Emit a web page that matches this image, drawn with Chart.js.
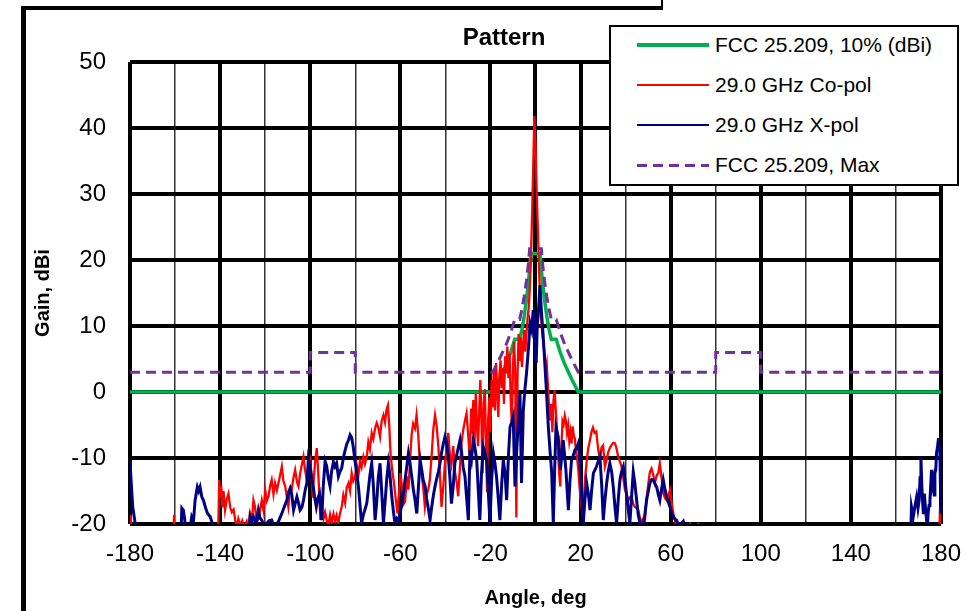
<!DOCTYPE html>
<html>
<head>
<meta charset="utf-8">
<script src="https://cdn.jsdelivr.net/npm/chart.js@4.4.1/dist/chart.umd.min.js"></script>
<style>
  html, body { margin: 0; padding: 0; background: #fff; }
  #wrap { position: relative; width: 973px; height: 611px; overflow: hidden; font-family: "Liberation Sans", Arial, sans-serif; }
  #chart { position: absolute; left: 0; top: 0; }
  .frame { position: absolute; background: #000; }
  #title { position: absolute; left: 404px; width: 200px; top: 23px; text-align: center; font-weight: bold; font-size: 24px; color: #000; }
  #legend { position: absolute; left: 609px; top: 25px; width: 350px; height: 161px; box-sizing: border-box; border: 2px solid #000; background: #fff; }
  .row { position: absolute; left: 0; height: 30px; width: 100%; }
  .swatch { position: absolute; left: 26px; width: 72px; top: 50%; }
  .label { position: absolute; left: 104px; top: 50%; transform: translateY(-50%); font-size: 21px; color: #000; white-space: nowrap; }
</style>
</head>
<body>
<div id="wrap">
  <canvas id="chart" width="977" height="611"></canvas>
  <div class="frame" style="left:21px; top:6px; width:5px; height:605px;"></div>
  <div class="frame" style="left:21px; top:6px; width:642px; height:4px;"></div>
  <div class="frame" style="left:661px; top:0px; width:2px; height:8px;"></div>
  <div id="title">Pattern</div>
  <div id="legend"></div>
</div>
<script>
const FONT = '"Liberation Sans", Arial, sans-serif';

const C_FCC   = '#00b050';
const C_CO    = '#ff0000';
const C_XP    = '#000080';
const C_MAX   = '#7030a0';

// X axis ticks (labelled every 40 deg, grid every 20 deg)
const X_LABELS = [-180, -140, -100, -60, -20, 20, 60, 100, 140, 180];
const X_THICK  = [-180, -140, -100, -60, -20, 0, 20, 60, 100, 140, 180];

// FCC 25.209, 10% (dBi)
const fccAngle = [-180, -19, -16, -13, -11, -9.2, -7, -6, -5, -4, -3, -2.3, -2, 2, 2.3, 3, 4, 5, 6, 7, 9.2, 11, 13, 16, 19, 180];
const fccGain  = [0, 0, 2, 4.2, 6, 8, 8, 9.5, 11.5, 14, 17, 20, 21, 21, 20, 17, 14, 11.5, 9.5, 8, 8, 6, 4.2, 2, 0, 0];

// FCC 25.209, Max
const maxAngle = [-180, -100, -100, -80, -80, -19, -16, -13, -11, -9.2, -7, -6, -5, -4, -3.2, -2.6, 2.6, 3.2, 4, 5, 6, 7, 9.2, 11, 13, 16, 19, 80, 80, 100, 100, 180];
const maxGain  = [3, 3, 6, 6, 3, 3, 5, 7.2, 9, 11, 11, 12.6, 14.5, 16.9, 19.3, 21.7, 21.7, 19.3, 16.9, 14.5, 12.6, 11, 11, 9, 7.2, 5, 3, 3, 6, 6, 3, 3];

// 29.0 GHz Co-pol
const coAngle = [
  -180, -179.7, -179.3, -161, -160.4, -160, -141, -140.4, -140, -139.5, -139, -138.5, -137.8, -137, -136.3, -135.5,
  -134.8, -134, -133.3, -132.5, -131.9, -131, -130.2, -129.4, -128.2, -127.5, -126.7, -125.9, -125.2, -124.5, -123.7, -123,
  -122.2, -121.5, -120.7, -120, -119.3, -118.5, -117.8, -117.1, -116.3, -115.6, -114.8, -114.1, -113.3, -112.6, -111.9, -111.1,
  -110.4, -109.7, -108.9, -108.2, -107.4, -106.7, -105.9, -105.2, -104.5, -103.7, -103, -102.3, -101.5, -100.8, -100, -99.4,
  -98.9, -98.5, -97.8, -97.1, -96.5, -96, -95.5, -94.8, -94.1, -93.4, -92.7, -92, -91.2, -90.5, -89.7, -89,
  -88.3, -87.5, -86.8, -86, -85.3, -84.5, -83.8, -83, -82.3, -81.6, -80.9, -80.1, -79.4, -78.6, -77.9, -77.2,
  -76.4, -75.7, -74.9, -74.2, -73.5, -72.7, -72, -71.2, -70.5, -69.8, -69, -68.3, -67.5, -66.8, -66.1, -65.5,
  -64.9, -64.3, -63.5, -62.8, -62, -61.3, -60.6, -60, -59.3, -58.6, -57.9, -57.1, -56.4, -55.7, -55, -54.3,
  -53.5, -52.8, -52.1, -51.3, -50.6, -49.8, -49.1, -48.4, -47.6, -46.9, -46.1, -45.4, -44.6, -43.9, -43.1, -42.4,
  -41.7, -40.9, -40.2, -39.5, -38.7, -38, -37.3, -36.5, -35.8, -35, -34.3, -33.5, -32.8, -32.1, -31.3, -30.6,
  -29.9, -29.1, -28.6, -28.1, -27.6, -27.1, -26.5, -26, -25.5, -25, -24.5, -24, -23.5, -23, -22.5, -22,
  -21.5, -21, -20.5, -20, -19.5, -19, -18.5, -18, -17.5, -17, -16.5, -16, -15.5, -15, -14.5, -14,
  -13.5, -13, -12.5, -12, -11.5, -11, -10.5, -10, -9.5, -9, -8.5, -8, -7.5, -7, -6.5, -6,
  -5.5, -5, -4.5, -4, -3.5, -3, -2.5, -2, -1.5, -1, -0.5, 0, 0.5, 1, 1.5, 2,
  2.5, 3, 3.5, 4, 4.5, 5, 5.5, 6, 6.5, 7, 7.5, 8, 8.5, 9, 9.5, 10,
  10.5, 11, 11.5, 12, 12.5, 13, 13.5, 14, 14.5, 15, 15.5, 16, 16.5, 17, 17.5, 18,
  18.5, 19, 19.5, 20, 20.5, 21, 21.5, 22, 22.5, 23, 23.5, 24, 24.8, 25.5, 26.2, 27,
  27.8, 28.6, 29.3, 30, 30.8, 31.5, 32.3, 33, 33.8, 34.5, 35.3, 36, 36.7, 37.5, 38.2, 39,
  39.7, 40.5, 41.2, 42, 42.7, 43.4, 44.1, 44.9, 45.6, 46.4, 47.1, 47.8, 48.6, 49.3, 50.1, 50.8,
  51.5, 52.3, 53, 53.8, 54.5, 55.2, 56, 56.7, 57.5, 58.2, 59, 59.7, 60.4, 61.2, 62, 62.6,
  63.5, 68, 68.6, 69.1, 72, 72.3, 72.7, 179, 179.6, 180
];
const coGain = [
  -22, -18.6, -23, -24, -18.6, -24, -24, -13.3, -16, -14.2, -17.5, -15, -17.9, -16.2, -15.4, -17.5,
  -18.2, -17.8, -19.4, -20.5, -19.2, -20.2, -19.5, -20.6, -19.6, -20.8, -18.4, -19.5, -16.4, -17.4, -19.8, -19.1,
  -17.8, -16.4, -18, -14.8, -16.5, -15.8, -14.2, -13.3, -15.5, -13.8, -14.9, -13.8, -12.5, -11.3, -13.5, -14.3,
  -15.8, -17.4, -14.6, -14.8, -12.9, -11.8, -13.6, -14.3, -12.4, -11, -9.8, -11.8, -13.3, -11.2, -10.3, -12.5,
  -16, -13.6, -10.5, -8.5, -11.8, -15.2, -19.4, -17.5, -19.2, -18.2, -19.4, -20.3, -18.6, -19.8, -18.5, -19.6,
  -18.7, -19.9, -18.4, -17.4, -15.6, -16.8, -14.5, -13.8, -15, -12.3, -13.5, -12.8, -11, -12.6, -10.5, -11.4,
  -9.8, -10.9, -9.8, -7.6, -8.7, -6.2, -7.1, -5.5, -4.7, -5.4, -6.8, -4.4, -3.5, -4.6, -2.6, -2,
  -5.2, -9.6, -12.1, -13.8, -16.3, -18.4, -15.5, -12.3, -14.2, -17, -16.6, -12.8, -14.8, -10.5, -6.5, -4.8,
  -5.5, -3.5, -6.3, -10.8, -12.4, -14.6, -17.4, -15.6, -14.8, -13.3, -9.6, -5.8, -3.5, -5.1, -8.3, -12.6,
  -17.4, -14.2, -10.8, -8.7, -6.2, -9.6, -11, -8.2, -12, -13.7, -15.8, -11.2, -7.6, -5.8, -4.3, -3.2,
  -6.4, -10.2, -2.5, -6.3, -1.2, -8.6, -0.2, -4.9, -8.2, -3.1, 1.8, -4, -12.3, -1.6, 0.4, -7.1,
  -15.2, -4.1, -0.8, -6.1, 1.8, -2.3, 3.3, -2.8, 4.4, 0.2, -3.8, 2.6, 4.8, 0.6, 3.6, -1.8,
  5.4, 2.8, 6.9, 2.1, 5.8, -1.2, -5, 3.8, 7.6, 2.9, -19, 2.2, 8.8, 4.7, 8.3, 3.8,
  7.1, 9.4, 6.1, 8.9, 11.2, 12.8, 15.8, 20.6, 27, 34.2, 41.8, 37.5, 30.8, 25.2, 19.4, 14.3,
  11.2, 8.8, 7.4, 5.8, 3.1, 4.2, 1.1, -2.2, -4.3, -1.8, -6.1, -1.2, 0.3, -2.9, -5.4, -9.1,
  -12.2, -14.3, -8.3, -4.4, -4.9, -3.6, -4.4, -6.2, -5.1, -7.4, -6.1, -7.8, -5.2, -6.6, -7.1, -9.2,
  -10.1, -11.8, -14.2, -16.1, -17.6, -18.9, -16.2, -13.1, -11.3, -9.6, -8.4, -7.6, -6.1, -5.4, -6.2, -6,
  -8.6, -10.2, -8.4, -8.1, -11.3, -10.4, -9.1, -8.5, -8, -7.7, -7.8, -8.6, -9.8, -10.6, -11.3, -13.1,
  -14.8, -15.6, -16.4, -15.9, -15.8, -17, -17.4, -17.6, -17.9, -19.1, -19.9, -19.2, -19.4, -16.2, -13.8, -12.1,
  -11.6, -12.6, -13.8, -12.6, -12.3, -10.8, -13.1, -15.3, -16.1, -16.4, -15.6, -14.8, -16.6, -18.4, -19.6, -20.4,
  -23, -24, -19.8, -24, -24, -19.8, -24, -24, -17.4, -22
];

// 29.0 GHz X-pol
const xpAngle = [
  -180, -179.5, -178.8, -177.7, -177, -157.5, -157, -156.3, -155.5, -154.5, -153.5, -152.6, -151.8, -151.1, -150.1, -149.5,
  -148.9, -148.1, -147.4, -146.5, -145.6, -144.4, -143.3, -142.5, -127.5, -126.7, -126, -125.2, -124, -123, -122.2, -121.5,
  -120.5, -119.3, -118.2, -117.1, -116, -114.8, -113.7, -112.6, -111.5, -110.4, -109.6, -108.9, -108.2, -107.4, -106.6, -105.9,
  -105.2, -104.5, -103.7, -103, -102.2, -101.5, -100.8, -100.2, -99.5, -98.8, -98.1, -97.3, -96.6, -95.9, -94.9, -94.2,
  -93.4, -92.7, -92, -91.2, -90.5, -89.7, -89, -88.3, -87.5, -86.8, -86, -85.3, -84.5, -83.8, -83, -82.3,
  -81.6, -80.9, -80.1, -79.4, -78.6, -77.9, -77.2, -76.4, -75.7, -74.9, -74.2, -73.5, -72.7, -72, -71.2, -70.5,
  -69.8, -69, -68.3, -67.5, -66.8, -66, -65.3, -64.6, -63.8, -63.1, -62.4, -61.6, -60.9, -60.1, -59.4, -58.6,
  -57.9, -57.1, -56.4, -55.7, -54.9, -54.2, -53.5, -52.7, -52, -51.2, -50.5, -49.8, -49, -48.3, -47.5, -46.8,
  -46.1, -45.3, -44.6, -43.9, -43.1, -42.4, -41.7, -40.9, -40.2, -39.5, -38.7, -38, -37.3, -36.5, -35.8, -35,
  -34.3, -33.5, -32.8, -32.1, -31.3, -30.6, -29.8, -29.1, -28.4, -27.6, -26.9, -26.1, -25.4, -24.7, -24, -23.2,
  -22.5, -21.7, -21, -20.2, -19.5, -18.7, -18, -17.3, -16.5, -15.8, -15, -14.3, -13.5, -12.8, -12, -11.3,
  -10.6, -9.9, -9.1, -8.4, -7.6, -6.9, -6.2, -5.4, -4.7, -4, -3.2, -2.4, -1.7, -1, -0.3, 0.3,
  0.8, 1.3, 2, 2.6, 3.2, 4, 4.8, 5.7, 6.5, 7.2, 7.9, 8.5, 9.1, 10.1, 11.1, 11.7,
  12.3, 13.5, 14.6, 15.3, 16, 16.8, 17.5, 18.3, 19, 19.8, 20.5, 21.2, 22, 22.7, 23.5, 24.2,
  25, 25.7, 26.4, 27.1, 27.9, 28.6, 29.4, 30.1, 30.8, 31.6, 32.3, 33, 33.8, 34.5, 35.3, 36,
  36.8, 37.5, 38.2, 39, 39.7, 40.4, 41.2, 41.9, 42.7, 43.4, 44.1, 44.9, 45.6, 46.4, 47.1, 47.8,
  48.6, 49.3, 50.1, 50.8, 51.5, 52.3, 53, 53.8, 54.5, 55.2, 56, 56.7, 57.5, 58.2, 59, 59.7,
  60.4, 61.2, 62, 62.6, 63.4, 64.1, 64.9, 65.6, 66.3, 67, 166.5, 166.9, 167.7, 168.5, 169.2, 169.8,
  170.3, 170.7, 171.1, 171.5, 171.8, 172.2, 172.6, 173.2, 173.6, 174, 174.3, 174.7, 175.1, 175.5, 175.8, 176.2,
  176.6, 177, 177.3, 177.7, 178, 178.5, 178.9, 179.2, 179.5, 179.8, 180
];
const xpGain = [
  -10.5, -13.5, -17.4, -19.9, -23, -23, -17.6, -17.9, -19.9, -22, -21, -18.9, -19.5, -16.4, -14.4, -15,
  -14.4, -15.9, -16.4, -17.5, -18.4, -18.9, -20.1, -23, -23, -18.9, -19.6, -18.9, -20, -17.9, -19.2, -19.4,
  -20.3, -19.9, -19.5, -19.4, -20.4, -20.1, -19.3, -18.4, -17.4, -16.4, -15.2, -14.6, -15.5, -17.9, -16.8, -15.9,
  -16.8, -17.9, -17.5, -16.4, -14.8, -13.8, -10.1, -11, -12.8, -14, -15.8, -17.4, -16.1, -15.4, -19.4, -14.2,
  -10.5, -11.2, -13, -14.3, -12, -10.6, -11.3, -10.8, -12.8, -12.1, -11.5, -10, -8.8, -7.9, -7.3, -6.5,
  -6.9, -8.3, -10.5, -12.2, -14.3, -17.1, -19.9, -18.6, -17.8, -16.9, -14.8, -12.6, -10.8, -14, -19.4, -16.8,
  -13, -10.8, -14.9, -19.9, -16.8, -13.1, -10.8, -12.6, -15.8, -18, -19.9, -19.2, -19.6, -18.4, -17.2, -15.4,
  -13.3, -11.2, -9.3, -10.8, -12.9, -14.8, -16.3, -18.4, -14.6, -10.3, -11.8, -13.4, -14.3, -16.2, -17.8, -19.4,
  -17.5, -15.6, -14.3, -13.2, -12.1, -10.8, -9.2, -7.8, -6.8, -7.6, -9.8, -12.9, -16.9, -14.2, -10.8, -9.6,
  -8.5, -7.3, -9.2, -11.4, -12.8, -15.9, -19.4, -8.8, -10.2, -7.3, -8.4, -10.3, -14.8, -19.4, -12.6, -8.3,
  -9.1, -10.3, -14.8, -19.9, -13.5, -9.3, -10.8, -12.8, -16.2, -19.4, -13.9, -10.3, -12.4, -16.4, -9.6, -5.3,
  -4.6, -3.7, -14.3, -9.3, -4.2, -0.2, -13.8, -2.7, 0.4, 2.8, 6.3, 10.4, 9.4, 12.4, 8.1, 4.4,
  10.2, 12.1, 16.2, 12.3, 9.6, 5.2, 0.6, -5.3, -9.1, -12.3, -19.9, -11.8, -5.3, -6.8, -11.8, -9.4,
  -7.3, -11.8, -17.9, -13.5, -10.3, -9.6, -8.8, -8.5, -7.8, -11.2, -15.4, -19.9, -16.1, -13.8, -15.5, -17.9,
  -14.6, -12.3, -11.8, -11.3, -10.4, -9.8, -14.2, -19.4, -16.5, -13.8, -12, -10.8, -12.1, -14.3, -17.5, -19.9,
  -16, -13.3, -12.1, -11.3, -13.2, -15.4, -17.8, -19.9, -15.6, -12.1, -13.8, -16.4, -18.6, -19.9, -20.1, -20.4,
  -18.4, -16.4, -15, -13.8, -13.3, -13.3, -13.9, -14.4, -15.5, -16.4, -14.6, -13.3, -14.8, -15.9, -16.7, -17.4,
  -18.2, -18.9, -19.3, -19.4, -20.1, -20.4, -19.9, -19.6, -20.6, -23, -23, -17.4, -18.9, -17.2, -15.9, -17.6,
  -16.4, -13, -9.8, -14.2, -16.4, -18.5, -15.4, -17.9, -19.4, -20.2, -18.4, -17.2, -16.4, -13.8, -11.8, -14,
  -13.3, -15.6, -12.3, -11.8, -9.3, -8.2, -7, -8.5, -8.8, -15, -18.4
];

const pts = (xs, ys) => xs.map((x, i) => ({ x, y: ys[i] }));

const datasets = [
  { label: 'FCC 25.209, 10% (dBi)', data: pts(fccAngle, fccGain), borderColor: C_FCC, borderWidth: 3.5, order: 4 },
  { label: '29.0 GHz Co-pol',       data: pts(coAngle, coGain),   borderColor: C_CO,  borderWidth: 2.3, order: 3 },
  { label: '29.0 GHz X-pol',        data: pts(xpAngle, xpGain),   borderColor: C_XP,  borderWidth: 3,   order: 2 },
  { label: 'FCC 25.209, Max',       data: pts(maxAngle, maxGain), borderColor: C_MAX, borderWidth: 3,   borderDash: [10, 6], order: 1 },
];

// legend box (sits over the plot, like the original)
const legendRows = [
  { top: 18, color: C_FCC, width: 4,   dashed: false },
  { top: 58, color: C_CO,  width: 2,   dashed: false },
  { top: 98, color: C_XP,  width: 2.5, dashed: false },
  { top: 138, color: C_MAX, width: 3,  dashed: true  },
];
const legendEl = document.getElementById('legend');
datasets.forEach((d, i) => {
  const r = legendRows[i];
  const bg = r.dashed
    ? `repeating-linear-gradient(90deg, ${r.color} 0 10px, transparent 10px 16px)`
    : r.color;
  legendEl.insertAdjacentHTML('beforeend', `
    <div class="row" style="top:${r.top - 15}px">
      <div class="swatch" style="height:${r.width}px; margin-top:${-r.width / 2}px; background:${bg}"></div>
      <div class="label">${d.label}</div>
    </div>`);
});

new Chart(document.getElementById('chart'), {
  type: 'line',
  data: {
    datasets: datasets.map(d => ({
      ...d,
      pointRadius: 0,
      pointHoverRadius: 0,
      fill: false,
      tension: 0,
      spanGaps: true,
    })),
  },
  options: {
    responsive: false,
    animation: false,
    events: [],
    layout: { padding: { top: 62, right: 28, left: 0, bottom: 0 } },
    plugins: {
      legend: { display: false },
      tooltip: { enabled: false },
      title: { display: false },
    },
    scales: {
      x: {
        type: 'linear',
        min: -180,
        max: 180,
        afterFit: s => { s.height = 87; },
        border: { display: false },
        grid: {
          drawTicks: false,
          color: c => X_THICK.includes(c.tick.value) ? '#000' : '#333',
          lineWidth: c => X_THICK.includes(c.tick.value) ? 4 : 1.5,
        },
        ticks: {
          stepSize: 20,
          autoSkip: false,
          maxRotation: 0,
          padding: 16,
          color: '#000',
          font: { family: FONT, size: 24 },
          callback: v => X_LABELS.includes(v) ? String(v) : '',
        },
        title: {
          display: true,
          text: 'Angle, deg',
          color: '#000',
          font: { family: FONT, size: 20, weight: 'bold' },
          padding: { top: 0, bottom: 1 },
        },
      },
      y: {
        min: -20,
        max: 50,
        afterFit: s => { s.width = 130; },
        border: { display: false },
        grid: { drawTicks: false, color: '#000', lineWidth: 4 },
        ticks: {
          stepSize: 10,
          padding: 24,
          color: '#000',
          font: { family: FONT, size: 24 },
        },
        title: {
          display: true,
          text: 'Gain, dBi',
          color: '#000',
          font: { family: FONT, size: 20, weight: 'bold' },
          padding: { top: 31, bottom: 0 },
        },
      },
    },
  },
});
</script>
</body>
</html>
